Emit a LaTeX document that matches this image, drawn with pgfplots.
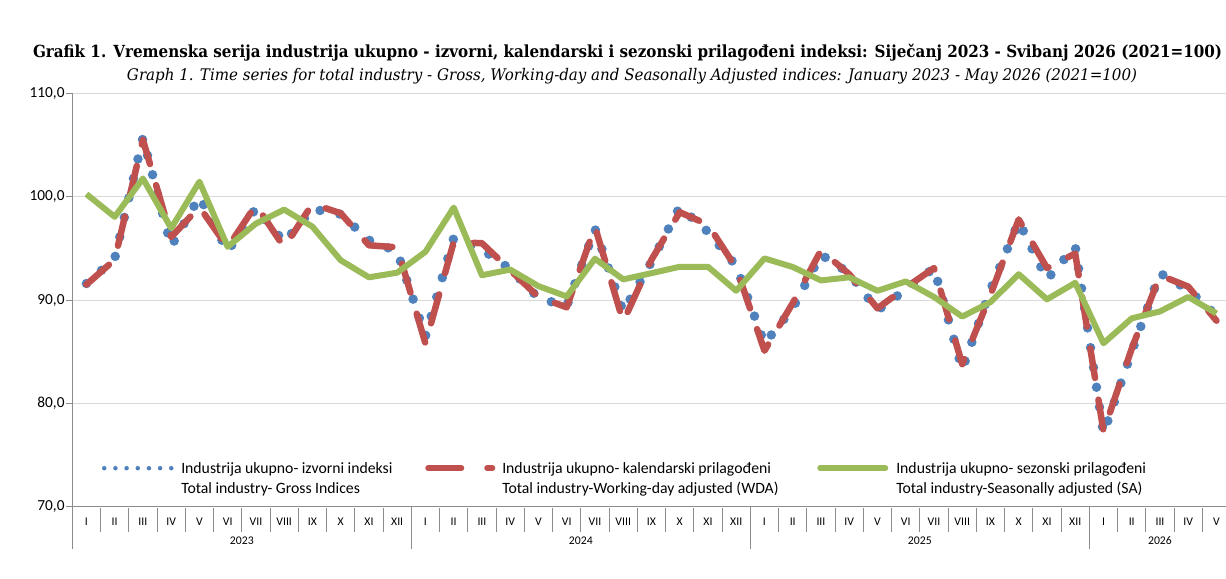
\documentclass[border=0pt]{standalone}
\usepackage{pgfplots}
\usepackage{pgfplotstable}
\pgfplotsset{compat=1.18}
\usepackage{fontspec}
\setmainfont{Carlito}
\newfontfamily\titlefont{DejaVu Serif}
\usepackage{graphicx}
\newlength\px
\setlength\px{0.75pt}
\definecolor{cblue}{HTML}{4F81BD}
\definecolor{cred}{HTML}{C0504D}
\definecolor{cgreen}{HTML}{9BBB59}
\definecolor{gridc}{HTML}{D9D9D9}
\definecolor{axc}{HTML}{8C8C8C}

\pgfplotstableread{
i  G     W     S
0  91.6  91.5  100.25
1  94.0  93.9  98.05
2  105.7 105.5 101.76
3  95.2  96.1  96.95
4  100.0 99.0  101.45
5  94.7  95.1  95.15
6  98.9  99.2  97.4
7  95.6  95.1  98.75
8  98.8  99.3  97.1
9  98.3  98.4  93.85
10 95.8  95.3  92.2
11 94.7  95.1  92.65
12 86.5  85.8  94.67
13 96.0  95.6  98.95
14 94.9  95.5  92.4
15 93.0  92.9  92.95
16 90.2  90.3  91.35
17 89.4  89.3  90.35
18 96.9  97.1  94.0
19 88.9  87.9  92.0
20 93.7  93.9  92.6
21 99.0  98.5  93.22
22 96.6  97.3  93.22
23 93.3  93.1  90.9
24 85.8  85.1  94.03
25 89.2  89.7  93.2
26 94.4  94.8  91.9
27 92.6  92.5  92.2
28 89.0  89.2  90.9
29 91.0  91.2  91.8
30 93.1  93.1  90.3
31 83.3  83.8  88.4
32 91.0  90.5  89.8
33 97.6  97.8  92.5
34 92.0  93.1  90.07
35 95.2  94.5  91.67
36 77.1  77.3  85.82
37 85.0  85.3  88.23
38 92.6  92.4  88.9
39 91.0  91.3  90.3
40 88.5  88.0  88.7
}\data

\begin{document}
\begin{tikzpicture}
\path[use as bounding box] (0,0) rectangle (1226\px,-578\px);
\node[font=\titlefont\bfseries\fontsize{12.5pt}{15pt}\selectfont, inner sep=0pt] at (627.5\px,-53\px)
 {\resizebox{1189\px}{\height}{Grafik 1. Vremenska serija industrija ukupno - izvorni, kalendarski i sezonski prilagođeni indeksi: Siječanj 2023 - Svibanj 2026 (2021=100)}};
\node[font=\titlefont\itshape\fontsize{12pt}{15pt}\selectfont, inner sep=0pt] at (632\px,-76\px)
 {\resizebox{1010\px}{\height}{Graph 1. Time series for total industry - Gross, Working-day and Seasonally Adjusted indices: January 2023 - May 2026 (2021=100)}};
\begin{axis}[
  at={(72.3\px,-506.8\px)}, anchor=south west,
  scale only axis, width=1158.3\px, height=413.5\px,
  xmin=-0.5, xmax=40.5, ymin=70, ymax=110,
  axis x line=bottom, axis y line=left,
  axis line style={-, draw=axc, line width=1\px},
  ytick={70,80,90,100,110},
  ymajorgrids, grid style={draw=gridc, line width=1\px},
  tick align=outside, major tick length=6\px,
  ytick style={draw=axc, line width=1\px},
  yticklabel style={font=\fontsize{11.5pt}{13pt}\selectfont, xshift=3\px},
  /pgf/number format/.cd, fixed, fixed zerofill, precision=1, use comma, assume math mode=true, /pgfplots/.cd,
  xtick={0,...,40},
  xticklabels={I,II,III,IV,V,VI,VII,VIII,IX,X,XI,XII,I,II,III,IV,V,VI,VII,VIII,IX,X,XI,XII,I,II,III,IV,V,VI,VII,VIII,IX,X,XI,XII,I,II,III,IV,V},
  xtick style={draw=none},
  xticklabel style={font=\fontsize{8.8pt}{10pt}\selectfont},
  clip=false,
  legend columns=3,
  legend style={draw=none, fill=none, inner sep=0pt, column sep=0pt, row sep=0pt,
    at={(0.02391,0.1083)}, anchor=north west,
    font=\fontsize{11.8pt}{15pt}\selectfont,
    nodes={inner sep=0pt, anchor=base west}},
]
\addplot[cblue, line width=9.5\px, dash pattern=on 0pt off 20\px, line cap=round,
  legend image code/.code={\path[draw=none] (0,0) -- (81\px,0);
    \draw[cblue, solid, line width=4.5\px, dash pattern=on 0pt off 11.17\px, line cap=round] (4\px,5\px) -- (71.5\px,5\px);}]
  table[x=i,y=G]{\data};
\addlegendentry{\parbox[t]{244\px}{Industrija ukupno- izvorni indeksi\\Total industry- Gross Indices}}
\addplot[cred, line width=6.5\px, dash pattern=on 30\px off 22\px, line cap=round, line join=round,
  legend image code/.code={\path[draw=none] (0,0) -- (77\px,0);
    \draw[cred, line width=5.5\px, dash pattern=on 33.5\px off 25.5\px, line cap=round] (2.75\px,5\px) -- (67.25\px,5\px);}]
  table[x=i,y=W]{\data};
\addlegendentry{\parbox[t]{315\px}{Industrija ukupno- kalendarski prilagođeni\\Total industry-Working-day adjusted (WDA)}}
\addplot[cgreen, line width=6\px, line join=round,
  legend image code/.code={\path[draw=none] (0,0) -- (79\px,0);
    \draw[cgreen, line width=6\px, line cap=round] (3\px,5\px) -- (68\px,5\px);}]
  table[x=i,y=S]{\data};
\addlegendentry{\parbox[t]{300\px}{Industrija ukupno- sezonski prilagođeni\\Total industry-Seasonally adjusted (SA)}}
\pgfplotsinvokeforeach{0.5,1.5,...,39.5}{\draw[axc, line width=1\px] (axis cs:#1,69.85) -- (axis cs:#1,67.58);}
\pgfplotsinvokeforeach{-0.5,11.5,23.5,35.5,40.5}{\draw[axc, line width=1\px] (axis cs:#1,70) -- (axis cs:#1,65.94);}
\node[font=\fontsize{8.8pt}{10pt}\selectfont] at (axis cs:5.5,70) [yshift=-34\px] {2023};
\node[font=\fontsize{8.8pt}{10pt}\selectfont] at (axis cs:17.5,70) [yshift=-34\px] {2024};
\node[font=\fontsize{8.8pt}{10pt}\selectfont] at (axis cs:29.5,70) [yshift=-34\px] {2025};
\node[font=\fontsize{8.8pt}{10pt}\selectfont] at (axis cs:38,70) [yshift=-34\px] {2026};
\end{axis}
\end{tikzpicture}
\end{document}
